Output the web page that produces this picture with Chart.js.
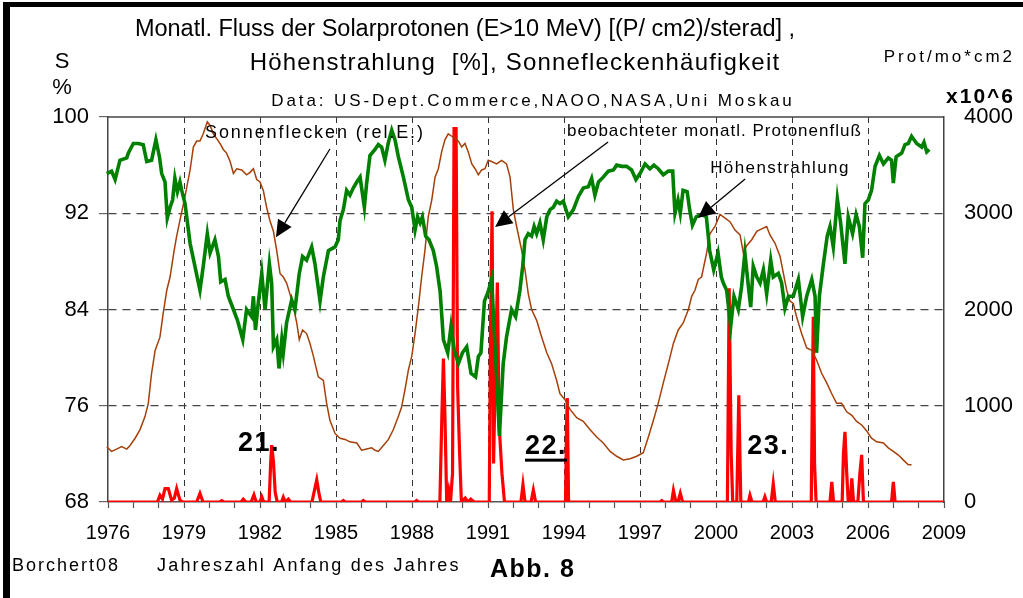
<!DOCTYPE html>
<html>
<head>
<meta charset="utf-8">
<script src="https://cdn.jsdelivr.net/npm/chart.js@4.4.1/dist/chart.umd.min.js"></script>
<style>
  html, body { margin: 0; padding: 0; background: #fff; }
  canvas { display: block; }
</style>
</head>
<body>
<canvas id="abb8" width="1023" height="598"></canvas>
<script>
// Höhenstrahlung [%] (left axis)
const cosmicT = [1975.68,1975.82,1975.95,1976.14,1976.28,1976.47,1976.74,1976.80,1977.00,1977.20,1977.39,1977.53,1977.72,1977.89,1978.03,1978.12,1978.25,1978.34,1978.45,1978.55,1978.64,1978.74,1978.84,1978.91,1979.04,1979.24,1979.43,1979.63,1979.76,1979.92,1980.03,1980.22,1980.36,1980.45,1980.62,1980.75,1980.95,1981.11,1981.32,1981.47,1981.67,1981.74,1981.82,1981.93,1982.07,1982.20,1982.37,1982.46,1982.53,1982.66,1982.75,1982.86,1982.92,1983.05,1983.25,1983.38,1983.55,1983.68,1983.84,1984.04,1984.17,1984.37,1984.50,1984.70,1984.96,1985.09,1985.16,1985.29,1985.42,1985.55,1985.68,1985.82,1985.95,1986.12,1986.21,1986.34,1986.54,1986.67,1986.80,1986.93,1987.07,1987.20,1987.33,1987.46,1987.66,1987.86,1987.99,1988.12,1988.22,1988.32,1988.41,1988.54,1988.67,1988.84,1988.97,1989.11,1989.24,1989.41,1989.54,1989.67,1989.83,1989.99,1990.16,1990.33,1990.51,1990.62,1990.72,1990.86,1991.01,1991.14,1991.30,1991.45,1991.60,1991.73,1991.93,1992.09,1992.26,1992.37,1992.46,1992.59,1992.72,1992.82,1992.92,1993.05,1993.18,1993.32,1993.45,1993.58,1993.71,1993.84,1993.97,1994.17,1994.37,1994.57,1994.76,1994.96,1995.09,1995.22,1995.36,1995.55,1995.75,1995.95,1996.08,1996.28,1996.47,1996.67,1996.84,1997.00,1997.20,1997.39,1997.55,1997.72,1997.92,1998.12,1998.29,1998.38,1998.50,1998.59,1998.70,1998.86,1998.96,1999.07,1999.22,1999.42,1999.62,1999.75,1999.91,2000.08,2000.21,2000.29,2000.42,2000.58,2000.71,2000.88,2001.01,2001.14,2001.28,2001.37,2001.47,2001.61,2001.74,2001.87,2002.00,2002.16,2002.26,2002.46,2002.59,2002.72,2002.86,2003.05,2003.25,2003.42,2003.58,2003.78,2003.91,2003.97,2004.08,2004.24,2004.39,2004.50,2004.63,2004.79,2004.92,2005.09,2005.22,2005.39,2005.53,2005.66,2005.79,2005.88,2006.01,2006.14,2006.28,2006.45,2006.61,2006.80,2006.93,2007.00,2007.11,2007.33,2007.46,2007.59,2007.72,2007.92,2008.12,2008.21,2008.32,2008.42];
const cosmic = [95.6,94.6,95.3,95.5,94.8,96.4,96.6,97.0,97.8,97.8,97.7,96.3,96.4,98.1,96.7,95.3,94.6,91.6,92.5,93.1,94.9,93.8,94.6,93.9,92.8,89.5,87.6,85.6,87.6,90.3,88.7,89.8,88.4,86.3,86.5,85.1,84.0,83.1,81.5,84.0,83.4,85.1,82.3,84.5,87.0,84.0,87.8,86.2,80.9,81.5,79.1,81.5,80.4,82.9,84.8,84.0,87.0,88.4,88.1,89.2,87.8,84.7,86.7,88.9,89.2,89.8,91.4,92.3,93.9,93.5,94.1,94.6,95.0,92.5,94.5,96.8,97.3,97.7,97.5,96.4,97.9,98.9,98.1,96.7,95.0,93.1,92.5,90.6,91.7,91.2,91.7,90.1,89.8,88.9,87.6,85.5,81.5,80.4,82.6,80.6,79.5,80.4,80.9,78.7,78.4,80.1,80.4,84.7,85.5,86.5,80.0,73.5,79.5,81.7,84.0,83.4,85.6,87.6,89.8,90.3,90.1,90.9,90.3,91.2,89.8,91.7,92.3,92.5,93.0,92.8,93.0,91.7,92.3,93.4,94.1,94.2,94.9,93.5,94.6,95.0,95.5,95.6,96.0,95.9,95.9,95.6,94.8,95.3,96.1,95.7,96.0,95.7,95.2,95.5,95.5,92.0,93.1,92.0,93.9,93.8,92.3,91.0,91.7,91.9,91.7,88.9,87.3,88.7,86.7,86.2,85.6,82.6,85.1,84.0,85.9,88.7,85.9,84.2,87.6,86.7,86.2,87.3,85.3,88.1,86.7,87.0,86.2,84.1,85.1,85.1,86.5,83.4,85.1,86.5,85.1,80.4,85.1,87.8,90.1,90.9,89.2,93.2,91.2,87.8,91.7,90.3,91.9,90.9,88.3,92.8,93.1,93.9,95.9,96.8,96.1,96.6,96.4,94.5,96.7,97.0,97.7,97.8,98.4,97.8,97.5,97.9,97.1,97.3];

// Sonnenflecken (rel. E.), drawn against the left scale
const sunT = [1975.68,1975.82,1975.95,1976.14,1976.34,1976.54,1976.74,1976.87,1977.07,1977.26,1977.46,1977.59,1977.72,1977.86,1978.05,1978.18,1978.32,1978.45,1978.61,1978.71,1978.84,1979.04,1979.24,1979.37,1979.50,1979.63,1979.76,1979.92,1980.03,1980.16,1980.29,1980.42,1980.55,1980.68,1980.82,1980.95,1981.08,1981.28,1981.47,1981.61,1981.74,1981.87,1982.00,1982.13,1982.26,1982.39,1982.53,1982.66,1982.79,1982.92,1983.05,1983.18,1983.32,1983.45,1983.55,1983.68,1983.84,1983.97,1984.11,1984.30,1984.50,1984.63,1984.76,1984.96,1985.16,1985.36,1985.55,1985.82,1986.01,1986.21,1986.41,1986.54,1986.67,1986.87,1987.07,1987.26,1987.46,1987.59,1987.72,1987.86,1987.99,1988.12,1988.25,1988.38,1988.51,1988.64,1988.78,1988.91,1989.04,1989.17,1989.30,1989.43,1989.57,1989.70,1989.83,1989.96,1990.09,1990.22,1990.36,1990.49,1990.62,1990.75,1990.88,1991.01,1991.14,1991.34,1991.54,1991.73,1991.87,1992.00,1992.13,1992.33,1992.46,1992.59,1992.72,1992.92,1993.12,1993.32,1993.51,1993.71,1993.84,1994.04,1994.24,1994.50,1994.76,1995.03,1995.29,1995.55,1995.82,1996.08,1996.34,1996.61,1996.87,1997.13,1997.33,1997.53,1997.72,1997.92,1998.12,1998.32,1998.51,1998.71,1998.91,1999.04,1999.17,1999.30,1999.43,1999.63,1999.76,1999.96,2000.16,2000.36,2000.55,2000.75,2000.95,2001.08,2001.21,2001.41,2001.61,2001.80,2002.00,2002.13,2002.33,2002.53,2002.66,2002.79,2002.92,2003.05,2003.18,2003.38,2003.58,2003.78,2003.97,2004.17,2004.37,2004.57,2004.76,2004.96,2005.16,2005.36,2005.55,2005.75,2005.95,2006.14,2006.34,2006.61,2006.80,2007.00,2007.20,2007.39,2007.59,2007.72];
const sunspots = [72.9,73.0,72.6,72.2,72.4,72.6,72.4,72.7,73.3,74.0,75.1,76.2,78.7,80.6,81.7,83.7,85.6,86.7,88.9,90.1,91.4,93.4,95.6,97.5,98.0,98.0,98.6,99.6,99.3,98.6,98.2,97.8,97.3,97.0,96.3,95.3,95.7,95.6,95.2,95.4,95.7,94.8,94.6,93.9,92.5,91.4,90.5,88.9,87.0,86.7,86.2,85.3,84.2,82.9,81.5,82.3,82.0,81.2,80.1,78.4,78.1,76.2,74.8,73.7,73.3,73.2,73.0,72.9,72.3,72.4,72.5,72.3,72.2,72.7,73.2,74.0,75.1,75.9,77.3,79.0,80.1,82.0,84.2,86.7,88.9,91.7,93.1,95.0,95.7,97.1,98.1,98.6,98.4,98.2,98.0,97.5,97.8,97.1,96.1,95.7,95.2,95.6,95.7,96.4,96.3,96.1,96.4,96.1,95.0,92.3,90.9,88.9,87.3,85.3,84.0,83.1,81.7,80.4,79.5,78.1,77.0,76.5,75.7,75.0,74.7,74.0,73.4,72.9,72.2,71.8,71.5,71.6,71.8,72.1,73.4,74.8,76.2,77.9,79.5,81.2,82.3,82.9,84.0,85.1,85.6,86.5,86.7,88.7,90.3,90.9,91.9,91.6,91.3,90.6,90.2,88.7,89.3,89.8,90.5,90.7,90.9,90.2,89.5,88.4,87.0,85.6,84.7,84.5,83.4,82.0,80.8,80.6,79.8,78.7,77.9,77.0,76.2,76.2,75.5,75.2,74.7,74.4,73.9,73.3,73.0,72.9,72.5,72.2,71.9,71.5,71.1,71.1];

// beobachteter monatl. Protonenfluss [10^6 Prot/mo*cm2] (right axis)
const protonT = [1976.00,1977.95,1978.05,1978.15,1978.25,1978.38,1978.51,1978.62,1978.71,1978.84,1978.95,1979.50,1979.63,1979.75,1980.40,1980.49,1980.58,1981.25,1981.34,1981.45,1981.65,1981.76,1981.85,1982.00,1982.07,1982.15,1982.36,1982.42,1982.46,1982.53,1982.60,1982.68,1982.85,1982.92,1983.00,1983.12,1983.20,1984.05,1984.15,1984.24,1984.32,1984.40,1985.22,1985.29,1985.36,1986.01,1986.08,1986.15,1988.11,1988.18,1988.25,1989.10,1989.18,1989.24,1989.30,1989.37,1989.45,1989.52,1989.60,1989.66,1989.74,1989.80,1989.88,1989.95,1990.10,1990.20,1990.32,1990.45,1991.05,1991.10,1991.16,1991.22,1991.30,1991.37,1991.44,1991.55,1991.65,1992.30,1992.38,1992.46,1992.70,1992.79,1992.88,1994.06,1994.10,1994.13,1994.18,1997.80,1997.86,1997.92,1998.25,1998.32,1998.40,1998.50,1998.59,1998.68,2000.45,2000.52,2000.60,2000.66,2000.82,2000.90,2000.98,2001.28,2001.34,2001.42,2001.86,2001.93,2002.00,2002.18,2002.26,2002.34,2003.76,2003.80,2003.84,2003.89,2003.95,2004.50,2004.57,2004.64,2004.98,2005.03,2005.09,2005.16,2005.22,2005.30,2005.36,2005.43,2005.60,2005.68,2005.75,2005.82,2006.93,2007.00,2007.07,2009.00];
const protons = [0,0,70,30,140,140,20,40,140,20,0,0,90,0,0,15,0,0,30,0,0,75,0,0,55,0,0,400,590,420,100,0,0,50,0,30,0,0,120,230,100,0,0,15,0,0,15,0,0,15,0,0,900,1490,900,0,120,0,300,3880,3880,1200,500,0,40,0,30,0,0,1800,3020,400,1500,2280,800,300,0,0,180,0,0,125,0,0,800,1080,0,0,14,0,0,120,20,0,90,0,0,2220,500,0,0,1110,0,0,70,0,0,55,0,0,190,0,0,1000,1925,400,0,0,210,0,0,500,730,300,0,0,245,0,0,300,490,0,0,210,0,0];

const leftTicks = [68, 76, 84, 92, 100];
const rightTicks = [0, 1000, 2000, 3000, 4000];
const yearLabels = [1976, 1979, 1982, 1985, 1988, 1991, 1994, 1997, 2000, 2003, 2006, 2009];

const FONT = '"Liberation Sans", Arial, sans-serif';
const pts = (t, v) => t.map((x, i) => ({ x: x, y: v[i] }));

// notes in data units (year, left scale)
const notes = [
  { text: 'Sonnenflecken (rel.E.)', x: 1979.83, y: 98.67, size: 18, sp: 1.9 },
  { text: 'beobachteter monatl. Protonenfluß', x: 1994.12, y: 98.84, size: 17, sp: 1.0 },
  { text: 'Höhenstrahlung', x: 1999.77, y: 95.76, size: 17, sp: 1.4 },
  { text: '21.', x: 1981.13, y: 72.9, size: 27, bold: true, sp: 1.5 },
  { text: '22.', x: 1992.46, y: 72.6, size: 27, bold: true, sp: 1.5, underline: true },
  { text: '23.', x: 2001.23, y: 72.6, size: 27, bold: true, sp: 1.5 }
];
const arrows = [
  { x1: 1984.76, y1: 97.34, x2: 1982.63, y2: 90.0 },
  { x1: 1995.74, y1: 97.92, x2: 1991.28, y2: 90.86 },
  { x1: 2001.15, y1: 94.85, x2: 1999.29, y2: 91.6 }
];

function txt(ctx, s, x, y, font, sp) {
  ctx.font = font;
  ctx.letterSpacing = (sp || 0) + 'px';
  ctx.fillText(s, x, y);
  ctx.letterSpacing = '0px';
}

const decor = {
  id: 'decor',
  afterDraw(chart) {
    const { ctx, chartArea: a, scales } = chart;
    const sx = scales.x, sy = scales.y;
    ctx.save();
    // plot frame top line
    ctx.strokeStyle = '#444';
    ctx.lineWidth = 1.5;
    ctx.beginPath();
    ctx.moveTo(a.left, a.top);
    ctx.lineTo(a.right, a.top);
    ctx.stroke();

    ctx.fillStyle = '#000';
    ctx.textBaseline = 'middle';
    ctx.textAlign = 'left';
    for (const n of notes) {
      const px = sx.getPixelForValue(n.x), py = sy.getPixelForValue(n.y);
      const f = (n.bold ? 'bold ' : '') + n.size + 'px ' + FONT;
      txt(ctx, n.text, px, py, f, n.sp);
      if (n.underline) {
        ctx.font = f;
        ctx.letterSpacing = n.sp + 'px';
        const w = ctx.measureText(n.text).width;
        ctx.letterSpacing = '0px';
        ctx.fillRect(px, py + 12, w, 3);
      }
    }

    ctx.strokeStyle = '#000';
    ctx.lineWidth = 1.3;
    for (const r of arrows) {
      const x1 = sx.getPixelForValue(r.x1), y1 = sy.getPixelForValue(r.y1);
      const x2 = sx.getPixelForValue(r.x2), y2 = sy.getPixelForValue(r.y2);
      const ang = Math.atan2(y2 - y1, x2 - x1);
      const len = 17, hw = 8;
      const bx = x2 - len * Math.cos(ang), by = y2 - len * Math.sin(ang);
      ctx.beginPath();
      ctx.moveTo(x1, y1);
      ctx.lineTo(bx, by);
      ctx.stroke();
      ctx.beginPath();
      ctx.moveTo(x2, y2);
      ctx.lineTo(bx + hw * Math.sin(ang), by - hw * Math.cos(ang));
      ctx.lineTo(bx - hw * Math.sin(ang), by + hw * Math.cos(ang));
      ctx.closePath();
      ctx.fill();
    }

    // titles
    ctx.textAlign = 'center';
    txt(ctx, 'Monatl. Fluss der Solarprotonen (E>10 MeV) [(P/ cm2)/sterad] ,', 465, 30, '23.5px ' + FONT, 0);
    txt(ctx, 'Höhenstrahlung  [%], Sonnefleckenhäufigkeit', 515, 63, '24px ' + FONT, 1.2);
    txt(ctx, 'Data: US-Dept.Commerce,NAOO,NASA,Uni Moskau', 533, 101, '17px ' + FONT, 2.9);
    txt(ctx, 'S', 62, 62, '22px ' + FONT, 0);
    txt(ctx, '%', 62, 88, '22px ' + FONT, 0);
    ctx.textAlign = 'right';
    txt(ctx, 'Prot/mo*cm2', 1015, 57, '17px ' + FONT, 3);
    txt(ctx, 'x10^6', 1015, 97, 'bold 21px ' + FONT, 2);

    // footer
    ctx.textAlign = 'left';
    txt(ctx, 'Borchert08', 12, 566, '18px ' + FONT, 2);
    txt(ctx, 'Jahreszahl Anfang des Jahres', 157, 566, '18px ' + FONT, 2.2);
    txt(ctx, 'Abb. 8', 490, 570, 'bold 25px ' + FONT, 1.5);

    // outer frame
    ctx.fillRect(3, 2, 1020, 5);
    ctx.fillRect(3, 2, 7, 596);
    ctx.restore();
  }
};

new Chart(document.getElementById('abb8'), {
  type: 'line',
  data: {
    datasets: [
      { label: 'Protonenfluß', data: pts(protonT, protons), yAxisID: 'y2',
        borderColor: '#ff0000', borderWidth: 3.2, pointRadius: 0, tension: 0, order: 3 },
      { label: 'Sonnenflecken', data: pts(sunT, sunspots), yAxisID: 'y',
        borderColor: '#a5400a', borderWidth: 1.5, pointRadius: 0, tension: 0, clip: false, order: 2 },
      { label: 'Höhenstrahlung', data: pts(cosmicT, cosmic), yAxisID: 'y',
        borderColor: '#008000', borderWidth: 3.6, pointRadius: 0, tension: 0, clip: false, order: 1 }
    ]
  },
  options: {
    responsive: false,
    animation: false,
    layout: { padding: { top: 117, left: 0, right: 0, bottom: 0 } },
    plugins: { legend: { display: false }, tooltip: { enabled: false } },
    scales: {
      x: {
        type: 'linear', min: 1976, max: 2009,
        afterFit: s => { s.height = 96; },
        ticks: {
          stepSize: 1, autoSkip: false, maxRotation: 0, padding: 13,
          color: '#000', font: { family: FONT, size: 20 },
          callback: v => yearLabels.includes(v) ? String(v) : ''
        },
        grid: {
          color: c => (yearLabels.includes(c.tick.value) && c.tick.value !== 1976 && c.tick.value !== 2009) ? '#333' : 'rgba(0,0,0,0)',
          lineWidth: 1, tickLength: 6, tickColor: '#555', tickWidth: 1.2
        },
        border: { color: '#555', width: 1.5, dash: [6, 5] }
      },
      y: {
        position: 'left', min: 68, max: 100,
        afterFit: s => { s.width = 108; },
        afterBuildTicks: s => { s.ticks = leftTicks.map(v => ({ value: v })); },
        ticks: { padding: 10, color: '#000', font: { family: FONT, size: 22 }, callback: v => String(v) },
        grid: {
          color: c => (c.tick.value === 68 || c.tick.value === 100) ? 'rgba(0,0,0,0)' : '#444',
          lineWidth: 1.2, tickLength: 9, tickColor: '#666', tickWidth: 1.2
        },
        border: { color: '#444', width: 1.5, dash: [8, 6] }
      },
      y2: {
        position: 'right', min: 0, max: 4000,
        afterFit: s => { s.width = 79; },
        afterBuildTicks: s => { s.ticks = rightTicks.map(v => ({ value: v })); },
        ticks: { padding: 20, color: '#000', font: { family: FONT, size: 22 }, callback: v => String(v) },
        grid: { drawOnChartArea: false, drawTicks: false },
        border: { color: '#444', width: 1.5 }
      }
    }
  },
  plugins: [decor]
});
</script>
</body>
</html>
